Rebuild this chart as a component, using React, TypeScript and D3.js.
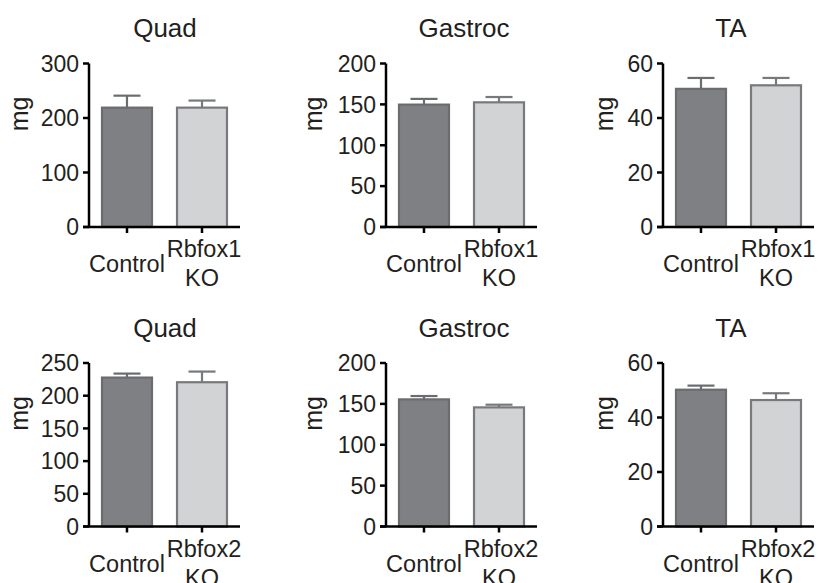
import React from "react";
import * as d3 from "d3";

const muscles = ["Quad", "Gastroc", "TA"];
const groupsTop = ["Control", "Rbfox1\nKO"];
const groupsBottom = ["Control", "Rbfox2\nKO"];

const topMeans = [
  [219, 219],
  [149.7, 152.5],
  [50.7, 52.0],
];
const topErrors = [
  [22, 13],
  [7, 6.5],
  [4.0, 2.7],
];
const bottomMeans = [
  [227.7, 220.6],
  [155.5, 145.7],
  [50.2, 46.4],
];
const bottomErrors = [
  [6.1, 16.3],
  [4.1, 3.3],
  [1.5, 2.5],
];

const topTicks = [
  [0, 100, 200, 300],
  [0, 50, 100, 150, 200],
  [0, 20, 40, 60],
];
const bottomTicks = [
  [0, 50, 100, 150, 200, 250],
  [0, 50, 100, 150, 200],
  [0, 20, 40, 60],
];

const yLabel = "mg";

// layout
const axisXs = [89, 386, 663];
const mgXs = [28, 322, 613];
const titleXs = [165, 464, 731];
const plotW = 151;
const plotH = 163.5;
const rowZeroY = [227, 526.5];
const FONT = "'Liberation Sans', Arial, Helvetica, sans-serif";
const TEXT = "#231f20";
const fills = ["#7f8083", "#d2d3d5"];
const strokes = ["#6b6c6f", "#78797c"];

function Panel({ ax, zeroY, title, titleX, mgX, cats, means, errs, ticks }: any) {
  const maxV = ticks[ticks.length - 1];
  const y = d3.scaleLinear().domain([0, maxV]).range([zeroY, zeroY - plotH]);
  const x = d3
    .scaleBand<string>()
    .domain(cats)
    .range([ax, ax + plotW])
    .paddingInner(0.307)
    .paddingOuter(0.16);
  const bw = x.bandwidth();
  return (
    <g>
      <text x={titleX} y={zeroY - 190} textAnchor="middle" fontSize={26} fill={TEXT} fontFamily={FONT}>
        {title}
      </text>
      <text
        transform={`translate(${mgX},${zeroY - 113}) rotate(-90)`}
        textAnchor="middle"
        fontSize={25}
        fill={TEXT}
        fontFamily={FONT}
      >
        {yLabel}
      </text>
      {cats.map((c: string, i: number) => {
        const x0 = x(c)!;
        const cx = x0 + bw / 2;
        const top = y(means[i]);
        const errTop = y(means[i] + errs[i]);
        return (
          <g key={c}>
            <line x1={cx} x2={cx} y1={top} y2={errTop} stroke={strokes[i]} strokeWidth={2.2} />
            <line x1={cx - 13.5} x2={cx + 13.5} y1={errTop} y2={errTop} stroke={strokes[i]} strokeWidth={2.2} />
            <rect
              x={x0 + 1}
              y={top}
              width={bw - 2}
              height={zeroY - top}
              fill={fills[i]}
              stroke={strokes[i]}
              strokeWidth={2.2}
            />
          </g>
        );
      })}
      {/* y axis */}
      <line x1={ax} x2={ax} y1={y(maxV)} y2={zeroY} stroke="#000" strokeWidth={2.5} />
      {ticks.map((t: number) => (
        <g key={t}>
          <line x1={ax - 6} x2={ax} y1={y(t)} y2={y(t)} stroke="#000" strokeWidth={2.5} />
          <text
            x={ax - 10}
            y={y(t)}
            dy="0.36em"
            textAnchor="end"
            fontSize={23}
            fill={TEXT}
            fontFamily={FONT}
          >
            {t}
          </text>
        </g>
      ))}
      {/* x axis */}
      <line x1={ax - 6} x2={ax + plotW} y1={zeroY} y2={zeroY} stroke="#000" strokeWidth={2.5} />
      {cats.map((c: string) => {
        const cx = x(c)! + bw / 2;
        const lines = c.split("\n");
        return (
          <g key={"l" + c}>
            <line x1={cx} x2={cx} y1={zeroY} y2={zeroY + 6} stroke="#000" strokeWidth={2.5} />
            {lines.length === 1 ? (
              <text x={cx} y={zeroY + 45} textAnchor="middle" fontSize={23.5} fill={TEXT} fontFamily={FONT}>
                {lines[0]}
              </text>
            ) : (
              lines.map((ln: string, k: number) => (
                <text
                  key={k}
                  x={cx + (k === 0 ? 2 : 0)}
                  y={zeroY + 30 + k * 29}
                  textAnchor="middle"
                  fontSize={23.5}
                  fill={TEXT}
                  fontFamily={FONT}
                >
                  {ln}
                </text>
              ))
            )}
          </g>
        );
      })}
    </g>
  );
}

export default function App() {
  return (
    <svg
      width={819}
      height={583}
      style={{ position: "absolute", left: 0, top: 0, background: "#fff" }}
    >
      <rect width={819} height={583} fill="#fff" />
      {muscles.map((m, i) => (
        <Panel
          key={"t" + m}
          ax={axisXs[i]}
          zeroY={rowZeroY[0]}
          title={m}
          titleX={titleXs[i]}
          mgX={mgXs[i]}
          cats={groupsTop}
          means={topMeans[i]}
          errs={topErrors[i]}
          ticks={topTicks[i]}
        />
      ))}
      {muscles.map((m, i) => (
        <Panel
          key={"b" + m}
          ax={axisXs[i]}
          zeroY={rowZeroY[1]}
          title={m}
          titleX={titleXs[i]}
          mgX={mgXs[i]}
          cats={groupsBottom}
          means={bottomMeans[i]}
          errs={bottomErrors[i]}
          ticks={bottomTicks[i]}
        />
      ))}
    </svg>
  );
}
